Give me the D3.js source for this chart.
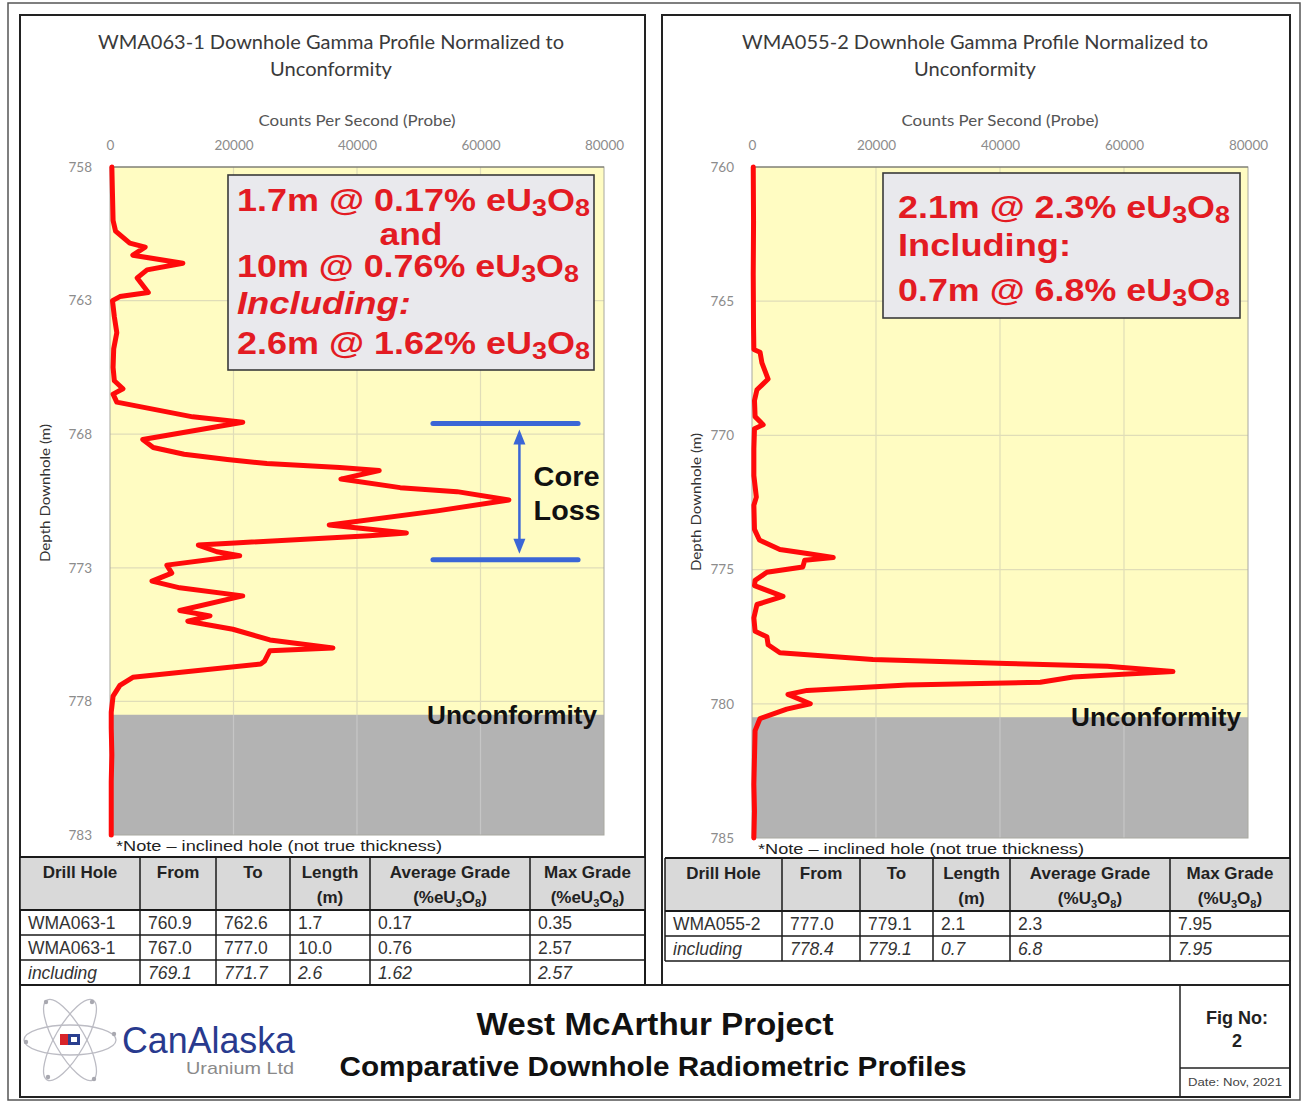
<!DOCTYPE html>
<html>
<head>
<meta charset="utf-8">
<script src="https://cdn.jsdelivr.net/npm/d3@7"></script>
<style>
  body { margin: 0; background: #fff; }
  text { font-family: "Liberation Sans", Arial, sans-serif; }
</style>
</head>
<body>
<svg id="fig" width="1307" height="1103"></svg>
<script>
// ---- Shared axis values ----
const cpsTicks = [0, 20000, 40000, 60000, 80000];

// ---- WMA063-1 gamma log (depth m, counts per second) ----
const depthA = [758.0, 759.0, 760.0, 760.4, 760.85, 761.0, 761.3, 761.6, 761.85, 762.15, 762.7, 762.85, 763.0,
  763.6, 764.2, 764.8, 765.5, 766.0, 766.3, 766.5, 766.8, 767.35, 767.55, 768.2, 768.5, 768.75, 768.95, 769.1,
  769.25, 769.36, 769.68, 770.0, 770.15, 770.46, 770.87, 771.4, 771.7, 771.8, 772.07, 772.15, 772.4, 772.55,
  772.9, 773.2, 773.5, 773.75, 774.05, 774.6, 774.8, 775.0, 775.3, 775.7, 776.0, 776.1, 776.5, 776.6, 777.1,
  777.4, 777.8, 778.4, 779.0, 780.0, 781.0, 782.0, 783.0];
const cpsA = [300, 400, 500, 900, 3200, 5700, 3700, 11800, 6000, 4400, 6200, 1600, 400,
  700, 1100, 600, 500, 700, 2100, 500, 1100, 13400, 21500, 5300, 7000, 12000, 19000, 25400,
  37200, 43600, 37400, 47000, 56200, 64600, 53000, 35500, 48000, 42000, 20200, 14300, 17300, 21000,
  9200, 10000, 6800, 11300, 21500, 11300, 16200, 12600, 19900, 25900, 36100, 25900, 25000, 24400, 3700,
  1600, 500, 200, 200, 300, 200, 200, 200];
const depthTicksA = [758, 763, 768, 773, 778, 783];
const unconformityA = 778.5;
const coreLossA = [767.6, 772.7];

// ---- WMA055-2 gamma log (depth m, counts per second) ----
const depthB = [760.0, 762.0, 764.0, 766.0, 766.8, 766.9, 767.3, 767.9, 768.3, 768.7, 769.3, 769.6, 769.75,
  770.5, 771.5, 772.3, 772.6, 773.5, 773.9, 774.25, 774.4, 774.55, 774.65, 774.9, 775.1, 775.4, 775.6, 776.0,
  776.3, 776.8, 777.3, 777.5, 777.8, 778.1, 778.35, 778.5, 778.6, 778.8, 779.0, 779.2, 779.3, 779.5, 779.65,
  780.0, 780.2, 780.55, 781.0, 782.0, 783.0, 784.0, 785.0];
const cpsB = [200, 250, 200, 250, 300, 1300, 1600, 2600, 800, 400, 500, 1800, 400,
  300, 300, 700, 300, 400, 1200, 4500, 8900, 13100, 8500, 8200, 2400, 500, 400, 5000,
  800, 300, 500, 2400, 2600, 4500, 19500, 41100, 57300, 67900, 51800, 46500, 25000, 8900, 5800,
  9400, 5600, 1300, 500, 400, 300, 400, 300];
const depthTicksB = [760, 765, 770, 775, 780, 785];
const unconformityB = 780.5;

// ---- Intercept summaries ("_" marks a subscript character) ----
const calloutA = ["1.7m @ 0.17% eU_3O_8", "and", "10m @ 0.76% eU_3O_8", "Including:", "2.6m @ 1.62% eU_3O_8"];
const calloutB = ["2.1m @ 2.3% eU_3O_8", "Including:", "0.7m @ 6.8% eU_3O_8"];

// ---- Assay tables ----
const headersA = [["Drill Hole"], ["From"], ["To"], ["Length", "(m)"], ["Average Grade", "(%eU_3O_8)"], ["Max Grade", "(%eU_3O_8)"]];
const headersB = [["Drill Hole"], ["From"], ["To"], ["Length", "(m)"], ["Average Grade", "(%U_3O_8)"], ["Max Grade", "(%U_3O_8)"]];
const rowsA = [
  ["WMA063-1", "760.9", "762.6", "1.7", "0.17", "0.35"],
  ["WMA063-1", "767.0", "777.0", "10.0", "0.76", "2.57"],
  ["including", "769.1", "771.7", "2.6", "1.62", "2.57"]
];
const rowsB = [
  ["WMA055-2", "777.0", "779.1", "2.1", "2.3", "7.95"],
  ["including", "778.4", "779.1", "0.7", "6.8", "7.95"]
];

const svg = d3.select("#fig");
const RED_TXT = "#e31b23";
const CALIBRI = "Lato, 'Open Sans', sans-serif";

// Append text with "_x" subscript markup as tspans.
function rich(g, x, y, str, opts) {
  const t = g.append("text").attr("x", x).attr("y", y);
  Object.entries(opts.attrs || {}).forEach(([k, v]) => t.attr(k, v));
  const size = opts.size;
  const subSize = size * (opts.subScale || 0.72);
  const drop = size * (opts.subDrop || 0.2);
  let low = false;
  let buf = "";
  const flush = () => {
    if (buf) { const s = t.append("tspan").text(buf); if (low) { s.attr("dy", -drop); low = false; } buf = ""; }
  };
  for (let i = 0; i < str.length; i++) {
    if (str[i] === "_" && i + 1 < str.length) {
      flush();
      const s = t.append("tspan").text(str[i + 1]).attr("font-size", subSize);
      if (!low) { s.attr("dy", drop); low = true; }
      i++;
    } else {
      buf += str[i];
    }
  }
  flush();
  if (opts.length) t.attr("textLength", opts.length).attr("lengthAdjust", "spacingAndGlyphs");
  return t;
}

function drawProfile(c) {
  const g = svg.append("g");
  const x = d3.scaleLinear().domain([0, 80000]).range([c.left, c.right]);
  const y = d3.scaleLinear().domain([c.ticks[0], c.ticks[c.ticks.length - 1]]).range([c.top, c.bottom]);

  // titles
  g.append("text").attr("x", c.titleX).attr("y", 49).attr("text-anchor", "middle")
    .style("font-family", CALIBRI).attr("font-size", 18.5).attr("fill", "#3a3a3a")
    .attr("textLength", 466).attr("lengthAdjust", "spacingAndGlyphs").text(c.title);
  g.append("text").attr("x", c.titleX).attr("y", 76).attr("text-anchor", "middle")
    .style("font-family", CALIBRI).attr("font-size", 18.5).attr("fill", "#3a3a3a")
    .attr("textLength", 122).attr("lengthAdjust", "spacingAndGlyphs").text("Unconformity");
  g.append("text").attr("x", (c.left + c.right) / 2).attr("y", 126).attr("text-anchor", "middle")
    .style("font-family", CALIBRI).attr("font-size", 15).attr("fill", "#555")
    .attr("textLength", 197).attr("lengthAdjust", "spacingAndGlyphs").text("Counts Per Second (Probe)");

  // plot background and unconformity (basement) fill
  g.append("rect").attr("x", c.left).attr("y", c.top).attr("width", c.right - c.left)
    .attr("height", c.bottom - c.top).attr("fill", "#fffcc2");
  g.append("rect").attr("x", c.left).attr("y", y(c.unconformity)).attr("width", c.right - c.left)
    .attr("height", c.bottom - y(c.unconformity)).attr("fill", "#b3b3b3");

  // grid
  const grid = g.append("g");
  cpsTicks.slice(1, -1).forEach(v => {
    grid.append("line").attr("x1", x(v)).attr("x2", x(v)).attr("y1", c.top).attr("y2", y(c.unconformity))
      .attr("stroke", "#e0ddb8").attr("stroke-width", 1.2);
    grid.append("line").attr("x1", x(v)).attr("x2", x(v)).attr("y1", y(c.unconformity)).attr("y2", c.bottom)
      .attr("stroke", "#c6c6c6").attr("stroke-width", 1.2);
  });
  c.ticks.slice(1, -1).forEach(v => {
    grid.append("line").attr("x1", c.left).attr("x2", c.right).attr("y1", y(v)).attr("y2", y(v))
      .attr("stroke", v > c.unconformity ? "#c6c6c6" : "#e0ddb8").attr("stroke-width", 1.2);
  });
  g.append("rect").attr("x", c.left).attr("y", c.top).attr("width", c.right - c.left)
    .attr("height", c.bottom - c.top).attr("fill", "none").attr("stroke", "#a8a8a0").attr("stroke-width", 1);
  g.append("line").attr("x1", c.left).attr("x2", c.right).attr("y1", c.top).attr("y2", c.top)
    .attr("stroke", "#6a6a60").attr("stroke-width", 1);

  // axes (labels only, no domain or tick marks)
  const xAxis = g.append("g").attr("transform", `translate(0,${c.top - 17})`)
    .call(d3.axisTop(x).tickValues(cpsTicks).tickSize(0).tickPadding(0).tickFormat(d3.format("d")));
  const yAxis = g.append("g").attr("transform", `translate(${c.left - 18},0)`)
    .call(d3.axisLeft(y).tickValues(c.ticks).tickSize(0).tickPadding(0).tickFormat(d3.format("d")));
  [xAxis, yAxis].forEach(a => {
    a.select(".domain").remove();
    a.selectAll("text").style("font-family", CALIBRI).attr("font-size", 13.5).attr("fill", "#8c8c8c");
  });
  yAxis.selectAll("text").attr("dy", "0.32em");

  g.append("text").attr("transform", `translate(${c.yTitleX},${c.yTitleY}) rotate(-90)`)
    .attr("text-anchor", "middle").style("font-family", CALIBRI).attr("font-size", 12.5).attr("fill", "#333")
    .attr("textLength", 138).attr("lengthAdjust", "spacingAndGlyphs").text("Depth Downhole (m)");

  // gamma curve
  const pts = c.depth.map((d, i) => [c.cps[i], d]);
  g.append("path").datum(pts)
    .attr("d", d3.line().x(p => x(p[0])).y(p => y(p[1])))
    .attr("fill", "none").attr("stroke", "#ff0a0a").attr("stroke-width", 5)
    .attr("stroke-linejoin", "round").attr("stroke-linecap", "round");

  // unconformity label
  g.append("text").attr("x", c.right - 7).attr("y", y(c.unconformity) + 9).attr("text-anchor", "end")
    .attr("font-size", 26).attr("font-weight", "bold").attr("fill", "#111")
    .attr("textLength", 170).attr("lengthAdjust", "spacingAndGlyphs").text("Unconformity");

  // intercept summary box
  g.append("rect").attr("x", c.box[0]).attr("y", c.box[1]).attr("width", c.box[2]).attr("height", c.box[3])
    .attr("fill", "#e9e9ed").attr("stroke", "#3a3a3a").attr("stroke-width", 1.6);
  c.callout.forEach((line, i) => {
    const spec = c.calloutSpec[i];
    rich(g, spec.x, spec.y, line, {
      size: 31, subScale: 0.75, subDrop: 0.16, length: spec.len,
      attrs: {
        "font-size": 31, "font-weight": "bold", "fill": RED_TXT,
        "font-style": spec.italic ? "italic" : "normal",
        "text-anchor": spec.anchor || "start"
      }
    });
  });

  // drill-hole note
  g.append("text").attr("x", c.left + 6).attr("y", c.bottom + 16).attr("font-size", 15.5).attr("fill", "#222")
    .attr("textLength", 326).attr("lengthAdjust", "spacingAndGlyphs")
    .text("*Note \u2013 inclined hole (not true thickness)");

  return { g, x, y };
}

function drawTable(cols, top, headers, rows) {
  const g = svg.append("g");
  const headH = 53, rowH = 25;
  const left = cols[0], right = cols[cols.length - 1];
  const bottom = top + headH + rows.length * rowH;
  g.append("rect").attr("x", left).attr("y", top).attr("width", right - left).attr("height", headH).attr("fill", "#d9d9d9");
  headers.forEach((lines, i) => {
    const cx = (cols[i] + cols[i + 1]) / 2;
    lines.forEach((ln, j) => {
      rich(g, cx, top + 21 + j * 25, ln, {
        size: 17, subScale: 0.65, subDrop: 0.22,
        attrs: { "font-size": 17, "font-weight": "bold", "fill": "#222", "text-anchor": "middle" }
      });
    });
  });
  rows.forEach((r, ri) => {
    const italic = r[0] === "including";
    r.forEach((v, ci) => {
      g.append("text").attr("x", cols[ci] + 8).attr("y", top + headH + ri * rowH + 19)
        .attr("font-size", 17.5).attr("fill", "#333").attr("font-style", italic ? "italic" : "normal").text(v);
    });
  });
  const st = "#1a1a1a";
  for (let i = 0; i <= rows.length; i++) {
    const yy = top + headH + i * rowH;
    g.append("line").attr("x1", left).attr("x2", right).attr("y1", yy).attr("y2", yy)
      .attr("stroke", st).attr("stroke-width", i === 0 ? 2 : 1.5);
  }
  g.append("line").attr("x1", left).attr("x2", right).attr("y1", top).attr("y2", top).attr("stroke", st).attr("stroke-width", 2);
  cols.forEach(cx => {
    g.append("line").attr("x1", cx).attr("x2", cx).attr("y1", top).attr("y2", bottom).attr("stroke", st).attr("stroke-width", 1.5);
  });
}

// ---- frame ----
svg.append("rect").attr("x", 0).attr("y", 0).attr("width", 1307).attr("height", 1103).attr("fill", "#fff");
svg.append("rect").attr("x", 8).attr("y", 3).attr("width", 1292).attr("height", 1097)
  .attr("fill", "none").attr("stroke", "#555").attr("stroke-width", 1.5);
svg.append("rect").attr("x", 20).attr("y", 15).attr("width", 625).attr("height", 970)
  .attr("fill", "none").attr("stroke", "#222").attr("stroke-width", 2);
svg.append("rect").attr("x", 662).attr("y", 15).attr("width", 628).attr("height", 970)
  .attr("fill", "none").attr("stroke", "#222").attr("stroke-width", 2);
svg.append("rect").attr("x", 20).attr("y", 985).attr("width", 1270).attr("height", 112)
  .attr("fill", "none").attr("stroke", "#222").attr("stroke-width", 2);

// ---- left profile ----
const A = drawProfile({
  left: 110, right: 604, top: 167, bottom: 835, titleX: 331, yTitleX: 50, yTitleY: 493,
  title: "WMA063-1 Downhole Gamma Profile Normalized to",
  ticks: depthTicksA, depth: depthA, cps: cpsA, unconformity: unconformityA,
  box: [228, 175, 366, 195], callout: calloutA,
  calloutSpec: [
    { x: 237, y: 211, len: 353 },
    { x: 411, y: 245, len: 63, anchor: "middle" },
    { x: 237, y: 277, len: 342 },
    { x: 237, y: 314, len: 174, italic: true },
    { x: 237, y: 354, len: 353 }
  ]
});

// core-loss interval marker
(function () {
  const { g, x, y } = A;
  const blue = "#3b66d6";
  const x0 = x(52300), x1 = x(75800), xm = x(66300);
  [coreLossA[0], coreLossA[1]].forEach(d => {
    g.append("line").attr("x1", x0).attr("x2", x1).attr("y1", y(d)).attr("y2", y(d))
      .attr("stroke", blue).attr("stroke-width", 5).attr("stroke-linecap", "round");
  });
  const yt = y(coreLossA[0]) + 6, yb = y(coreLossA[1]) - 6;
  g.append("line").attr("x1", xm).attr("x2", xm).attr("y1", yt + 10).attr("y2", yb - 10)
    .attr("stroke", blue).attr("stroke-width", 2.5);
  g.append("path").attr("d", `M${xm},${yt} L${xm - 6},${yt + 15} L${xm + 6},${yt + 15} Z`).attr("fill", blue);
  g.append("path").attr("d", `M${xm},${yb} L${xm - 6},${yb - 15} L${xm + 6},${yb - 15} Z`).attr("fill", blue);
  g.append("text").attr("x", x(68600)).attr("y", 486).attr("font-size", 28).attr("font-weight", "bold")
    .attr("fill", "#111").attr("textLength", 66).attr("lengthAdjust", "spacingAndGlyphs").text("Core");
  g.append("text").attr("x", x(68600)).attr("y", 520).attr("font-size", 28).attr("font-weight", "bold")
    .attr("fill", "#111").attr("textLength", 67).attr("lengthAdjust", "spacingAndGlyphs").text("Loss");
})();

// ---- right profile ----
drawProfile({
  left: 752, right: 1248, top: 167, bottom: 838, titleX: 975, yTitleX: 701, yTitleY: 502,
  title: "WMA055-2 Downhole Gamma Profile Normalized to",
  ticks: depthTicksB, depth: depthB, cps: cpsB, unconformity: unconformityB,
  box: [883, 173, 357, 145], callout: calloutB,
  calloutSpec: [
    { x: 898, y: 218, len: 332 },
    { x: 898, y: 256, len: 173 },
    { x: 898, y: 301, len: 332 }
  ]
});

// ---- tables ----
drawTable([20, 140, 216, 290, 370, 530, 645], 857, headersA, rowsA);
drawTable([665, 782, 860, 933, 1010, 1170, 1290], 858, headersB, rowsB);

// ---- title block ----
const tb = svg.append("g");
// company mark: atom orbits
const logo = tb.append("g").attr("transform", "translate(70,1040)");
[0, 60, 120].forEach(a => {
  logo.append("ellipse").attr("rx", 46).attr("ry", 15).attr("transform", `rotate(${a})`)
    .attr("fill", "none").attr("stroke", "#bcbcc4").attr("stroke-width", 1.3);
});
[[-44, 2], [22, -38], [24, 39], [44, -6], [-22, 37], [-24, -38]].forEach(p => {
  logo.append("circle").attr("cx", p[0]).attr("cy", p[1]).attr("r", 2.2).attr("fill", "#a8a8b0");
});
logo.append("rect").attr("x", -10).attr("y", -6).attr("width", 8).attr("height", 11).attr("fill", "#d8242a");
logo.append("rect").attr("x", -2).attr("y", -6).attr("width", 12).attr("height", 11).attr("fill", "#2a3f8f");
logo.append("rect").attr("x", 1).attr("y", -3).attr("width", 6).attr("height", 5).attr("fill", "#fff");
tb.append("text").attr("x", 122).attr("y", 1053).attr("font-size", 36).attr("fill", "#283a8e")
  .attr("textLength", 173).attr("lengthAdjust", "spacingAndGlyphs").text("CanAlaska");
tb.append("text").attr("x", 294).attr("y", 1074).attr("text-anchor", "end").attr("font-size", 17).attr("fill", "#8a8a8a")
  .attr("textLength", 108).attr("lengthAdjust", "spacingAndGlyphs").text("Uranium Ltd");

tb.append("text").attr("x", 655).attr("y", 1035).attr("text-anchor", "middle").attr("font-size", 32)
  .attr("font-weight", "bold").attr("fill", "#111").attr("textLength", 357).attr("lengthAdjust", "spacingAndGlyphs")
  .text("West McArthur Project");
tb.append("text").attr("x", 653).attr("y", 1076).attr("text-anchor", "middle").attr("font-size", 28)
  .attr("font-weight", "bold").attr("fill", "#111").attr("textLength", 627).attr("lengthAdjust", "spacingAndGlyphs")
  .text("Comparative Downhole Radiometric Profiles");

tb.append("line").attr("x1", 1180).attr("x2", 1180).attr("y1", 985).attr("y2", 1097).attr("stroke", "#222").attr("stroke-width", 1.5);
tb.append("line").attr("x1", 1180).attr("x2", 1290).attr("y1", 1068).attr("y2", 1068).attr("stroke", "#222").attr("stroke-width", 1.5);
tb.append("text").attr("x", 1237).attr("y", 1024).attr("text-anchor", "middle").attr("font-size", 18)
  .attr("font-weight", "bold").attr("fill", "#222").text("Fig No:");
tb.append("text").attr("x", 1237).attr("y", 1047).attr("text-anchor", "middle").attr("font-size", 18)
  .attr("font-weight", "bold").attr("fill", "#222").text("2");
tb.append("text").attr("x", 1235).attr("y", 1086).attr("text-anchor", "middle").attr("font-size", 11)
  .attr("fill", "#444").attr("textLength", 94).attr("lengthAdjust", "spacingAndGlyphs").text("Date: Nov, 2021");
</script>
</body>
</html>
